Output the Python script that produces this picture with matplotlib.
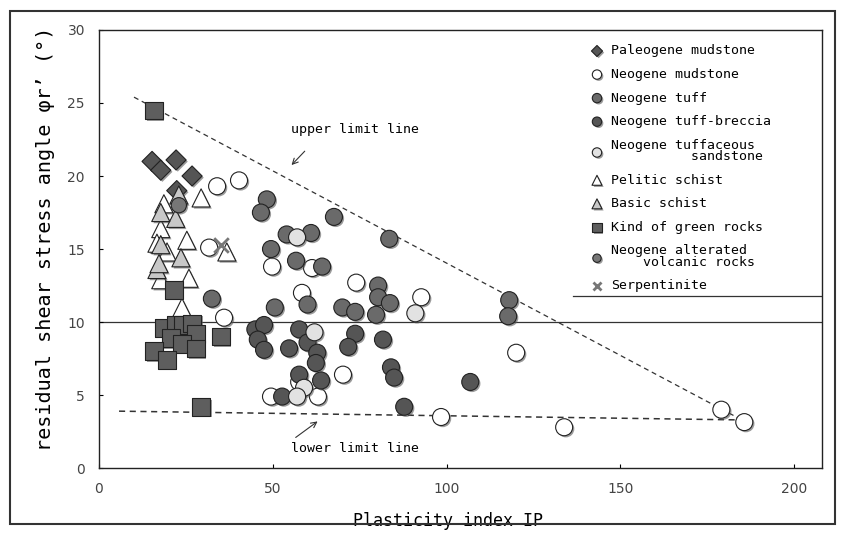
import matplotlib.pyplot as plt
import matplotlib.patheffects as pe
from matplotlib.patches import Rectangle

# data
paleo_mud_x = [15.3, 17.8, 22.2, 26.8, 22.4]
paleo_mud_y = [21.0, 20.4, 21.1, 20.0, 19.0]

neo_mud_x = [34.0, 40.3, 31.7, 36.0, 61.3, 49.8, 58.4, 74.0, 92.7, 70.2, 57.6, 49.5, 63.0,
             120.0, 98.4, 133.8, 179.0, 185.6]
neo_mud_y = [19.3, 19.7, 15.1, 10.3, 13.7, 13.8, 12.0, 12.7, 11.7, 6.4, 5.9, 4.9, 4.9,
             7.9, 3.5, 2.8, 4.0, 3.15]

tuff_x = [48.3, 46.6, 67.6, 83.5, 54.0, 61.0, 49.5, 56.7, 64.2, 80.3, 80.3, 83.7, 50.6,
          60.0, 70.0, 73.7, 79.7, 118.0, 117.7, 32.5]
tuff_y = [18.4, 17.5, 17.2, 15.7, 16.0, 16.1, 15.0, 14.2, 13.8, 12.5, 11.7, 11.3, 11.0,
          11.2, 11.0, 10.7, 10.5, 11.5, 10.4, 11.6]

breccia_x = [45.0, 47.5, 45.7, 47.5, 57.6, 60.0, 62.8, 54.7, 73.7, 71.7, 81.7, 62.4, 63.9,
             57.6, 84.0, 84.9, 52.7, 87.8, 106.8]
breccia_y = [9.5, 9.8, 8.8, 8.1, 9.5, 8.6, 7.9, 8.2, 9.2, 8.3, 8.8, 7.2, 6.0,
             6.4, 6.9, 6.2, 4.9, 4.2, 5.9]

tuff_sand_x = [57.0, 59.0, 57.0, 91.0, 62.0]
tuff_sand_y = [15.8, 5.5, 4.9, 10.6, 9.3]

pelitic_x = [29.4, 36.8, 17.8, 16.7, 25.3, 19.6, 17.8, 25.9, 23.9, 18.7]
pelitic_y = [18.5, 14.8, 16.4, 15.4, 15.6, 14.8, 12.9, 13.0, 11.0, 18.1]

basic_x = [23.0, 22.1, 17.8, 23.6, 16.7, 17.8, 17.3]
basic_y = [18.7, 17.1, 15.3, 14.4, 13.6, 17.5, 14.0]

green_x = [15.8, 21.6, 18.7, 22.1, 24.0, 26.8, 27.9, 20.7, 23.9, 27.9, 15.8, 19.6, 35.1, 29.4]
green_y = [24.5, 12.2, 9.6, 9.8, 9.8, 9.9, 9.2, 8.9, 8.5, 8.2, 8.0, 7.4, 9.0, 4.2]

altered_x = [23.0]
altered_y = [18.0]

serp_x = [35.1]
serp_y = [15.3]

upper_line_x = [10.1, 186.1]
upper_line_y = [25.4, 3.15]
lower_line_x = [5.8, 184.7]
lower_line_y = [3.9, 3.3]

mono = 'DejaVu Sans Mono'

fig = plt.figure(figsize=(8.45, 5.35), dpi=100)
ax = fig.add_axes([0.117, 0.125, 0.856, 0.819])

shadow = [pe.SimplePatchShadow(offset=(1.2, -1.2), shadow_rgbFace='0.35', alpha=0.6), pe.Normal()]
kw = dict(edgecolors='#222222', linewidths=0.8, path_effects=shadow, zorder=3)

ax.scatter(paleo_mud_x, paleo_mud_y, marker='D', s=105, c='#555555', label='Paleogene mudstone', **kw)
ax.scatter(neo_mud_x, neo_mud_y, marker='o', s=150, c='white', label='Neogene mudstone', **kw)
ax.scatter(tuff_x, tuff_y, marker='o', s=150, c='#6a6a6a', label='Neogene tuff', **kw)
ax.scatter(breccia_x, breccia_y, marker='o', s=150, c='#555555', label='Neogene tuff-breccia', **kw)
ax.scatter(tuff_sand_x, tuff_sand_y, marker='o', s=150, c='#e2e2e2',
           label='Neogene tuffaceous\n          sandstone', **kw)
ax.scatter(pelitic_x, pelitic_y, marker='^', s=170, c='white', label='Pelitic schist', **kw)
ax.scatter(basic_x, basic_y, marker='^', s=170, c='#c8c8c8', label='Basic schist', **kw)
ax.scatter(green_x, green_y, marker='s', s=160, c='#5e5e5e', label='Kind of green rocks', **kw)
ax.scatter(altered_x, altered_y, marker='o', s=120, c='#777777',
           label='Neogene alterated\n    volcanic rocks', **kw)
ax.scatter(serp_x, serp_y, marker='x', s=110, c='#777777', linewidths=2, label='Serpentinite', zorder=3)

# limit lines and reference line
ax.plot(upper_line_x, upper_line_y, ls=(0, (4, 3)), color='#333333', lw=0.9, zorder=2)
ax.plot(lower_line_x, lower_line_y, ls=(0, (4, 3)), color='#333333', lw=1.1, zorder=2)
ax.axhline(10, color='#333333', lw=0.9, zorder=1)

ax.text(73.6, 23.2, 'upper limit line', ha='center', va='center', fontsize=9.5, family=mono)
ax.annotate('', xy=(55.4, 20.75), xytext=(59.2, 21.7),
            arrowprops=dict(arrowstyle='->', color='#333333', lw=0.8, shrinkA=0, shrinkB=0))
ax.text(73.6, 1.37, 'lower limit line', ha='center', va='center', fontsize=9.5, family=mono)
ax.annotate('', xy=(62.9, 3.2), xytext=(56.6, 2.1),
            arrowprops=dict(arrowstyle='->', color='#333333', lw=0.8, shrinkA=0, shrinkB=0))

ax.set_xlim(0, 208)
ax.set_ylim(0, 30)
ax.set_xticks([0, 50, 100, 150, 200])
ax.set_yticks([0, 5, 10, 15, 20, 25, 30])
ax.tick_params(direction='in', length=3, labelsize=10, labelcolor='#444444', pad=10)
for s in ax.spines.values():
    s.set_color('#222222')
    s.set_linewidth(1.0)

ax.set_xlabel('Plasticity index IP', fontsize=12, family=mono)
ax.xaxis.set_label_coords(0.483, -0.1)
ax.set_ylabel('residual shear stress angle φr’ (°)', fontsize=14.5, family=mono)
ax.yaxis.set_label_coords(-0.061, 0.523)

leg = ax.legend(loc='upper left', bbox_to_anchor=(0.654, 1.0), prop={'family': mono, 'size': 9.5},
                markerscale=0.55, frameon=False, handletextpad=0.3, labelspacing=0.8,
                borderpad=0.6, handlelength=1.6)
for t in leg.get_texts():
    t.set_linespacing(0.85)
# bottom rule of the legend block
ax.axhline(11.8, xmin=0.655, xmax=1.0, color='#333333', lw=0.9)

# outer border of the figure
fig.patches.append(Rectangle((0.012, 0.02), 0.976, 0.96, transform=fig.transFigure,
                             fill=False, edgecolor='#333333', lw=1.5))

plt.savefig('out.png', dpi=100)
